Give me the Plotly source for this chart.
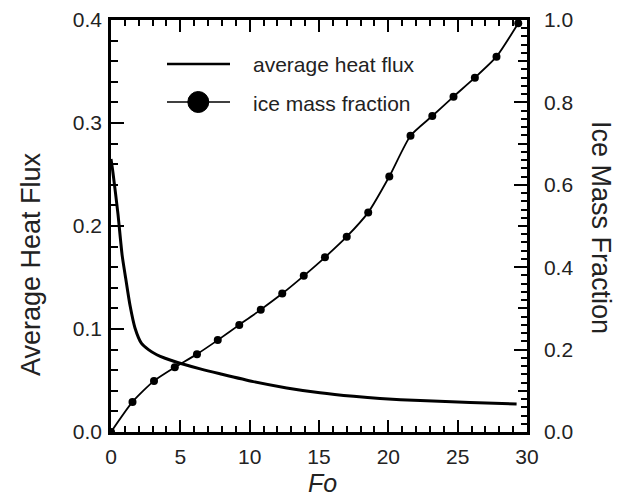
import plotly.graph_objects as go

# ---- data ----
fo_flux = [0.0, 0.14, 0.5, 0.8, 1.05, 1.37, 1.73, 2.2, 2.7, 3.3, 3.9, 5.3, 6.5,
           7.86, 10.26, 12.67, 15.07, 17.5, 19.4, 22.3, 25.9, 29.25]
heat_flux = [0.265, 0.252, 0.212, 0.172, 0.15, 0.123, 0.101, 0.086, 0.080, 0.075,
             0.0716, 0.0655, 0.061, 0.0565, 0.0489, 0.0428, 0.0381, 0.0346, 0.0325,
             0.0305, 0.0287, 0.0272]

fo_ice = [0.0, 1.55, 3.1, 4.6, 6.2, 7.7, 9.25, 10.8, 12.35, 13.9, 15.43, 17.0,
          18.55, 20.07, 21.6, 23.17, 24.7, 26.24, 27.8, 29.37]
ice_frac = [0.0, 0.073, 0.124, 0.157, 0.189, 0.223, 0.260, 0.297, 0.336, 0.379,
            0.424, 0.474, 0.533, 0.620, 0.719, 0.767, 0.814, 0.860, 0.911, 0.992]

x_range = [0, 30]
left_range = [0, 0.4]
right_range = [0, 1.0]
right_mid_ticks = [0.1, 0.3, 0.5, 0.7, 0.9]

FONT = "Liberation Sans, Arial, Helvetica, sans-serif"

fig = go.Figure()
fig.add_trace(go.Scatter(x=fo_flux, y=heat_flux, mode="lines",
                         line=dict(color="black", width=3, shape="spline", smoothing=0.6),
                         showlegend=False, hoverinfo="skip"))
fig.add_trace(go.Scatter(x=fo_ice, y=ice_frac, mode="lines+markers", xaxis="x", yaxis="y2",
                         line=dict(color="black", width=1.8, shape="spline", smoothing=0.6),
                         marker=dict(color="black", size=8),
                         showlegend=False, hoverinfo="skip"))
# invisible trace to anchor the top / mid-tick axes
fig.add_trace(go.Scatter(x=fo_ice, y=ice_frac, mode="markers", xaxis="x2", yaxis="y3",
                         marker=dict(opacity=0), showlegend=False, hoverinfo="skip"))

axis_common = dict(showgrid=False, zeroline=False, showline=True, linecolor="black",
                   linewidth=2.5, ticks="inside", tickcolor="black", tickwidth=2,
                   automargin=False,
                   tickfont=dict(family=FONT, size=21, color="#222"))

fig.update_layout(
    width=627, height=497,
    margin=dict(l=111, r=100, t=20, b=65, autoexpand=False),
    plot_bgcolor="white", paper_bgcolor="white",
    xaxis=dict(range=x_range, dtick=5, ticklen=12, ticklabelstandoff=4,
               minor=dict(dtick=1, ticklen=6, ticks="inside", tickwidth=2, tickcolor="black"),
               **axis_common),
    xaxis2=dict(range=x_range, overlaying="x", side="top", dtick=5, ticklen=12,
                showticklabels=False, anchor="y",
                minor=dict(dtick=1, ticklen=6, ticks="inside", tickwidth=2, tickcolor="black"),
                **axis_common),
    yaxis=dict(range=left_range, dtick=0.1, tickformat=".1f", ticklen=13, ticklabelstandoff=2,
               minor=dict(dtick=0.02, ticklen=7, ticks="inside", tickwidth=2, tickcolor="black"),
               **axis_common),
    yaxis2=dict(range=right_range, overlaying="y", side="right", dtick=0.2, tickformat=".1f",
                ticklen=13, ticklabelstandoff=10, anchor="x",
                minor=dict(dtick=0.02, ticklen=6, ticks="inside", tickwidth=2, tickcolor="black"),
                **axis_common),
    yaxis3=dict(range=right_range, overlaying="y", side="right", tickvals=right_mid_ticks,
                ticklen=9, showticklabels=False, anchor="x2",
                **{k: v for k, v in axis_common.items() if k != "showline"}),
    font=dict(family=FONT, color="#222"),
)

W, H = 416.0, 412.0
def px(x):
    return (x - 111) / W
def py(y):
    return (432 - y) / H

shapes = [
    dict(type="line", xref="paper", yref="paper", x0=px(167), x1=px(230), y0=py(64), y1=py(64),
         line=dict(color="black", width=2.5)),
    dict(type="line", xref="paper", yref="paper", x0=px(167), x1=px(230), y0=py(102), y1=py(102),
         line=dict(color="black", width=1.5)),
    dict(type="circle", xref="paper", yref="paper", x0=px(187.8), x1=px(208.8),
         y0=py(112.5), y1=py(91.5), fillcolor="black", line=dict(color="black", width=1)),
]
annotations = [
    dict(text="average heat flux", xref="paper", yref="paper", x=px(251), y=py(65),
         xanchor="left", yanchor="middle", showarrow=False, font=dict(size=21, family=FONT, color="#222")),
    dict(text="ice mass fraction", xref="paper", yref="paper", x=px(251), y=py(103),
         xanchor="left", yanchor="middle", showarrow=False, font=dict(size=21, family=FONT, color="#222")),
    dict(text="Average Heat Flux", xref="paper", yref="paper", x=px(31), y=py(264),
         textangle=-90, xanchor="center", yanchor="middle", showarrow=False,
         font=dict(size=27, family=FONT, color="#222")),
    dict(text="Ice Mass Fraction", xref="paper", yref="paper", x=px(601), y=py(227),
         textangle=90, xanchor="center", yanchor="middle", showarrow=False,
         font=dict(size=27, family=FONT, color="#222")),
    dict(text="<i>Fo</i>", xref="paper", yref="paper", x=px(322), y=py(483),
         xanchor="center", yanchor="middle", showarrow=False,
         font=dict(size=25, family=FONT, color="#222")),
]
fig.update_layout(shapes=shapes, annotations=annotations)

fig.write_html("out.html", config={"displayModeBar": False},
               post_script="document.body.style.margin='0';")
